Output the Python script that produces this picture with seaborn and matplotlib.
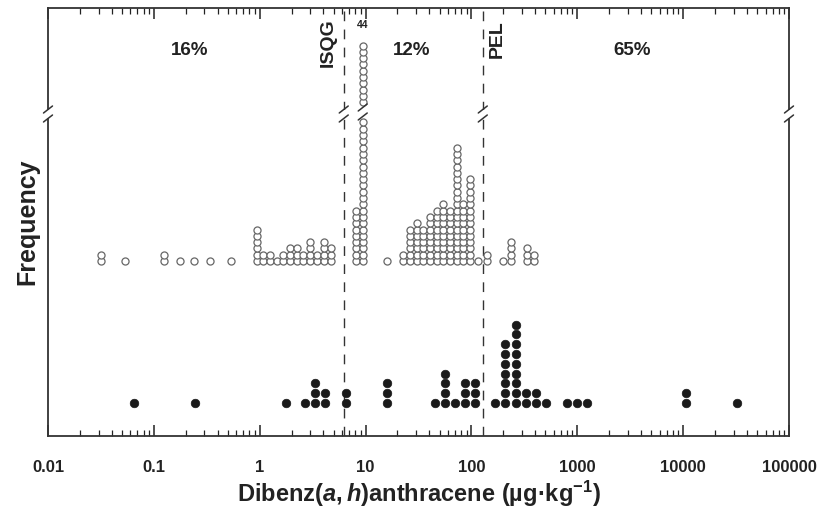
"""Dibenz(a,h)anthracene dot plot: samples without effect (open) vs with effect (filled)"""

import numpy as np
import pandas as pd
import matplotlib
matplotlib.use("Agg")
import matplotlib.pyplot as plt
import seaborn as sns

# open circles: column concentration (ug/kg) and number of samples in the column
open_conc = [0.032, 0.053, 0.125, 0.176, 0.24, 0.34, 0.54,
             0.94, 1.07, 1.25, 1.45, 1.66, 1.93, 2.24, 2.56, 2.98, 3.47, 4.04, 4.7,
             8.1, 9.4,
             15.9, 22.5, 26.2, 30.5, 34.7, 40.5, 47.1, 53.7, 62.5, 72.8, 83.0, 96.6, 115,
             140, 198, 236, 334, 388]
open_count = [2, 1, 2, 1, 1, 1, 1,
              6, 2, 2, 1, 2, 3, 3, 2, 4, 2, 4, 3,
              9, 44,
              1, 2, 6, 7, 6, 8, 9, 10, 9, 19, 10, 14, 1,
              2, 1, 4, 3, 2]

# filled circles
filled_conc = [0.065, 0.244, 1.77, 2.67, 3.32, 4.13, 6.5, 15.9, 45.1, 56.1, 69.7, 86.7, 107.7,
               166, 207, 262, 326, 406, 504, 796, 989, 1230, 10600, 32000]
filled_count = [1, 1, 1, 1, 3, 2, 2, 3, 1, 4, 1, 3, 3,
                1, 7, 9, 2, 2, 1, 1, 1, 1, 2, 1]

ISQG = 6.22
PEL = 128
pct_labels = ["16%", "12%", "65%"]
tick_vals = [0.01, 0.1, 1, 10, 100, 1000, 10000, 100000]
tick_labels = ["0.01", "0.1", "1", "10", "100", "1000", "10000", "100000"]

# y axis is in pixels (axes is 428 px tall)
OPEN_BASE, OPEN_STEP = 175, 6.3
FILL_BASE, FILL_STEP = 33, 9.8
CAP, TOP_SHOWN, GAP = 23, 10, 2.2
BREAK_Y = 322


def stack(conc, count, base, step, cap=None):
    rows = []
    for c, n in zip(conc, count):
        hidden = n - cap - TOP_SHOWN if cap is not None else 0
        for k in range(n):
            if hidden > 0 and k >= cap:
                if k < n - TOP_SHOWN:
                    continue
                pos = k - hidden + GAP
            else:
                pos = k
            rows.append((c, base + pos * step))
    return pd.DataFrame(rows, columns=["conc", "y"])


open_df = stack(open_conc, open_count, OPEN_BASE, OPEN_STEP, cap=CAP)
fill_df = stack(filled_conc, filled_count, FILL_BASE, FILL_STEP)

sns.set_style("ticks")
plt.rcParams["font.family"] = ["Liberation Sans", "DejaVu Sans"]
plt.rcParams["font.weight"] = "bold"
plt.rcParams["mathtext.fontset"] = "custom"
plt.rcParams["mathtext.it"] = "Liberation Sans:italic:bold"
plt.rcParams["mathtext.rm"] = "Liberation Sans:bold"
plt.rcParams["mathtext.default"] = "regular"

ink = "#222222"
fig = plt.figure(figsize=(8.28, 5.2), dpi=100)
ax = fig.add_axes([48 / 828, 84 / 520, 741 / 828, 428 / 520])

sns.scatterplot(data=open_df, x="conc", y="y", ax=ax, s=26, marker="o",
                facecolor="white", edgecolor="#666666", linewidth=0.9, zorder=3)
sns.scatterplot(data=fill_df, x="conc", y="y", ax=ax, s=38, marker="o",
                color="#1a1a1a", edgecolor="#1a1a1a", linewidth=0.5, zorder=3)

ax.set_xscale("log")
ax.set_xlim(0.01, 1e5)
ax.set_ylim(0, 428)
ax.set_yticks([])
ax.set_xticks(tick_vals)
ax.set_xticklabels(tick_labels)
ax.tick_params(which="both", direction="in", top=True, bottom=True, left=False,
               colors=ink, labelsize=12, pad=17)
ax.tick_params(which="major", length=8, width=1.1)
ax.tick_params(which="minor", length=4, width=0.9)
for s in ax.spines.values():
    s.set_color("#333333")
    s.set_linewidth(1.3)

# guideline lines
for g in (ISQG, PEL):
    ax.axvline(g, color="#333333", lw=1.0, ls=(0, (7, 6)), zorder=2)

# axis break marks
def slash_pair(x, y, white=True):
    f = 10 ** (4.5 / 105.9)
    if white:
        ax.plot([x, x], [y - 4, y + 4], color="white", lw=4, zorder=5, clip_on=False,
                solid_capstyle="butt")
    for dy in (-4.5, 4.5):
        ax.plot([x / f, x * f], [y + dy - 3.5, y + dy + 3.5], color="#333333", lw=1.1,
                zorder=6, clip_on=False)


for xb in (0.01, 1e5, ISQG, PEL):
    slash_pair(xb, BREAK_Y)
slash_pair(open_conc[open_count.index(max(open_count))], BREAK_Y + 2, white=False)

# annotations
top_col = open_conc[open_count.index(max(open_count))]
ax.text(top_col, 411, str(max(open_count)), ha="center", va="center", fontsize=7.5,
        color=ink)
ax.text(ISQG * 0.72, 393, "ISQG", rotation=90, ha="center", va="center", fontsize=14,
        color=ink)
ax.text(PEL * 1.36, 397, "PEL", rotation=90, ha="center", va="center", fontsize=14,
        color=ink)
for xp, lab in zip([0.219, 27.4, 3270], pct_labels):
    ax.text(xp, 386, lab, ha="center", va="center", fontsize=13.5, color=ink)

ax.set_xlabel("Dibenz$\\mathit{(a,h)}$anthracene (µg·kg$^{-1}$)", fontsize=17,
              fontweight="bold", color=ink, labelpad=3)
ax.set_ylabel("Frequency", fontsize=18, fontweight="bold", color=ink, labelpad=6)

fig.savefig("out.png", dpi=100)
